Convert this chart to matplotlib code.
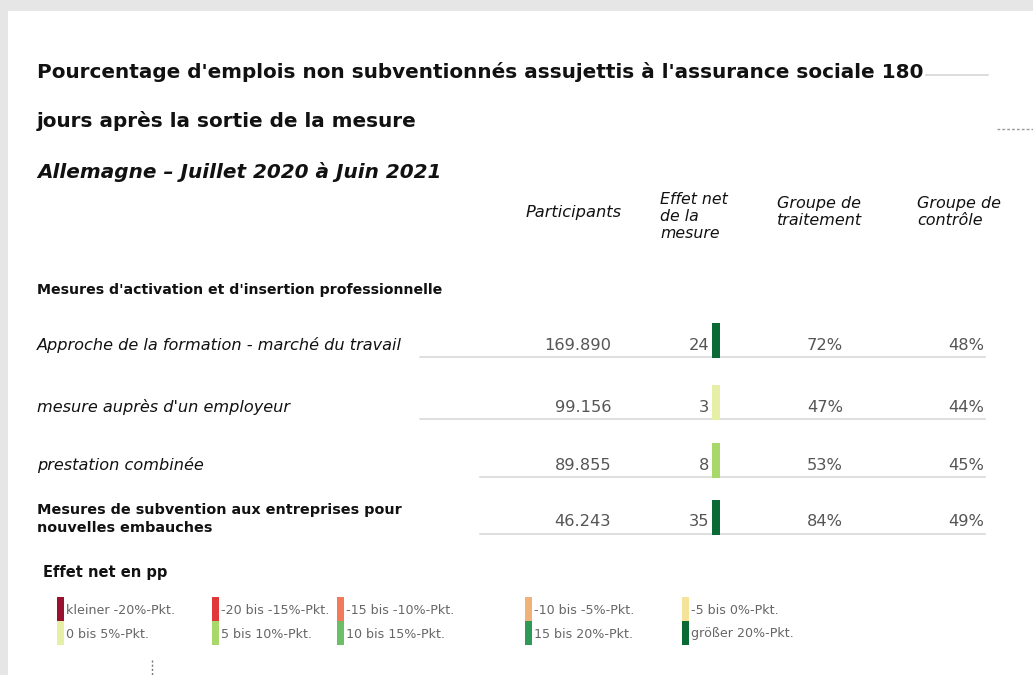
import matplotlib
matplotlib.use("Agg")
import matplotlib.pyplot as plt
from matplotlib.patches import Rectangle
import numpy as np

# ---------------- data ----------------
title_lines = ["Pourcentage d'emplois non subventionnés assujettis à l'assurance sociale 180",
               "jours après la sortie de la mesure"]
subtitle = "Allemagne – Juillet 2020 à Juin 2021"
col_headers = ["Participants", "Effet net\nde la\nmesure", "Groupe de\ntraitement", "Groupe de\ncontrôle"]
section_header = "Mesures d'activation et d'insertion professionnelle"
row_labels = ["Approche de la formation - marché du travail",
              "mesure auprès d'un employeur",
              "prestation combinée",
              "Mesures de subvention aux entreprises pour\nnouvelles embauches"]
row_italic = [True, True, True, False]
participants = ["169.890", "99.156", "89.855", "46.243"]
net_effect = [24, 3, 8, 35]
treatment = [72, 47, 53, 84]
control = [48, 44, 45, 49]

legend_title = "Effet net en pp"
legend_labels = ["kleiner -20%-Pkt.", "-20 bis -15%-Pkt.", "-15 bis -10%-Pkt.", "-10 bis -5%-Pkt.",
                 "-5 bis 0%-Pkt.", "0 bis 5%-Pkt.", "5 bis 10%-Pkt.", "10 bis 15%-Pkt.",
                 "15 bis 20%-Pkt.", "größer 20%-Pkt."]
legend_colors = ["#98112f", "#e0383a", "#f07a5a", "#efb27a", "#f6e39a",
                 "#e6efa6", "#a8d86a", "#6abf67", "#2f9a55", "#0a6a36"]
bin_edges = [-20, -15, -10, -5, 0, 5, 10, 15, 20]

# ---------------- figure ----------------
W, H = 1033, 675
plt.rcParams["font.family"] = ["DejaVu Sans"]
fig = plt.figure(figsize=(W / 100, H / 100), dpi=100)
fig.patch.set_facecolor("#e6e6e6")
ax = fig.add_axes([0, 0, 1, 1])
ax.set_xlim(0, W)
ax.set_ylim(H, 0)
ax.axis("off")
ax.add_patch(Rectangle((8, 11), W - 8, H - 11, facecolor="white", edgecolor="none", zorder=0))

DARK = "#111111"
GREY = "#555555"

# title
ax.text(37, 72, title_lines[0], fontsize=14.4, fontweight="bold", color=DARK, va="center", ha="left")
ax.text(37, 121, title_lines[1], fontsize=14.4, fontweight="bold", color=DARK, va="center", ha="left")
ax.plot([926, 988], [75, 75], color="#d6d6d6", lw=1.2)
ax.plot([997, 1033], [129, 129], color="#999999", lw=1, ls=(0, (2, 1.5)))
ax.text(37, 172, subtitle, fontsize=14.4, fontweight="bold", style="italic", color=DARK, va="center", ha="left")

# column headers
col_x = [526, 660, 777, 917]
ax.text(col_x[0], 213, col_headers[0], fontsize=11.7, style="italic", color=DARK, va="center", ha="left")
ax.text(col_x[1], 192, col_headers[1], fontsize=11.3, style="italic", color=DARK,
        va="top", ha="left", linespacing=1.15)
for i in (2, 3):
    ax.text(col_x[i], 196, col_headers[i], fontsize=11.5, style="italic", color=DARK,
            va="top", ha="left", linespacing=1.15)

ax.text(37, 290, section_header, fontsize=10.2, fontweight="bold", color=DARK, va="center", ha="left")

# rows
row_y = [345, 407, 465, 522]
line_start = [420, 420, 480, 480]
for i, y in enumerate(row_y):
    if row_italic[i]:
        ax.text(37, y, row_labels[i], fontsize=11.6, color=DARK, va="center", ha="left", style="italic")
    else:
        ax.text(37, y - 3, row_labels[i], fontsize=10.35, color=DARK, va="center", ha="left",
                fontweight="bold", linespacing=1.3)
    ax.text(611, y, participants[i], fontsize=11.7, color=GREY, va="center", ha="right")
    ax.text(709, y, str(net_effect[i]), fontsize=11.7, color=GREY, va="center", ha="right")
    k = int(np.digitize(net_effect[i], bin_edges))
    ax.bar(716, 35, width=8, bottom=y - 22, color=legend_colors[k], zorder=3)
    ax.text(843, y, f"{treatment[i]}%", fontsize=11.7, color=GREY, va="center", ha="right")
    ax.text(984, y, f"{control[i]}%", fontsize=11.7, color=GREY, va="center", ha="right")
    ax.plot([line_start[i], 985], [y + 12, y + 12], color="#d9d9d9", lw=1.2, zorder=1)

# legend
ax.text(43, 572, legend_title, fontsize=10.5, fontweight="bold", color=DARK, va="center", ha="left")
leg_x = [57, 212, 337, 525, 682]
leg_y = [609, 633]
for j, lab in enumerate(legend_labels):
    r, c = divmod(j, 5)
    x, y = leg_x[c], leg_y[r]
    ax.bar(x + 3.5, 24, width=7, bottom=y - 12, color=legend_colors[j], zorder=3)
    ax.text(x + 9, y + 1, lab, fontsize=9.1, color="#666666", va="center", ha="left")
ax.plot([152, 152], [660, 675], color="#777777", lw=1, ls=(0, (1.5, 1.5)))

fig.savefig("out.png", dpi=100, facecolor=fig.get_facecolor())
